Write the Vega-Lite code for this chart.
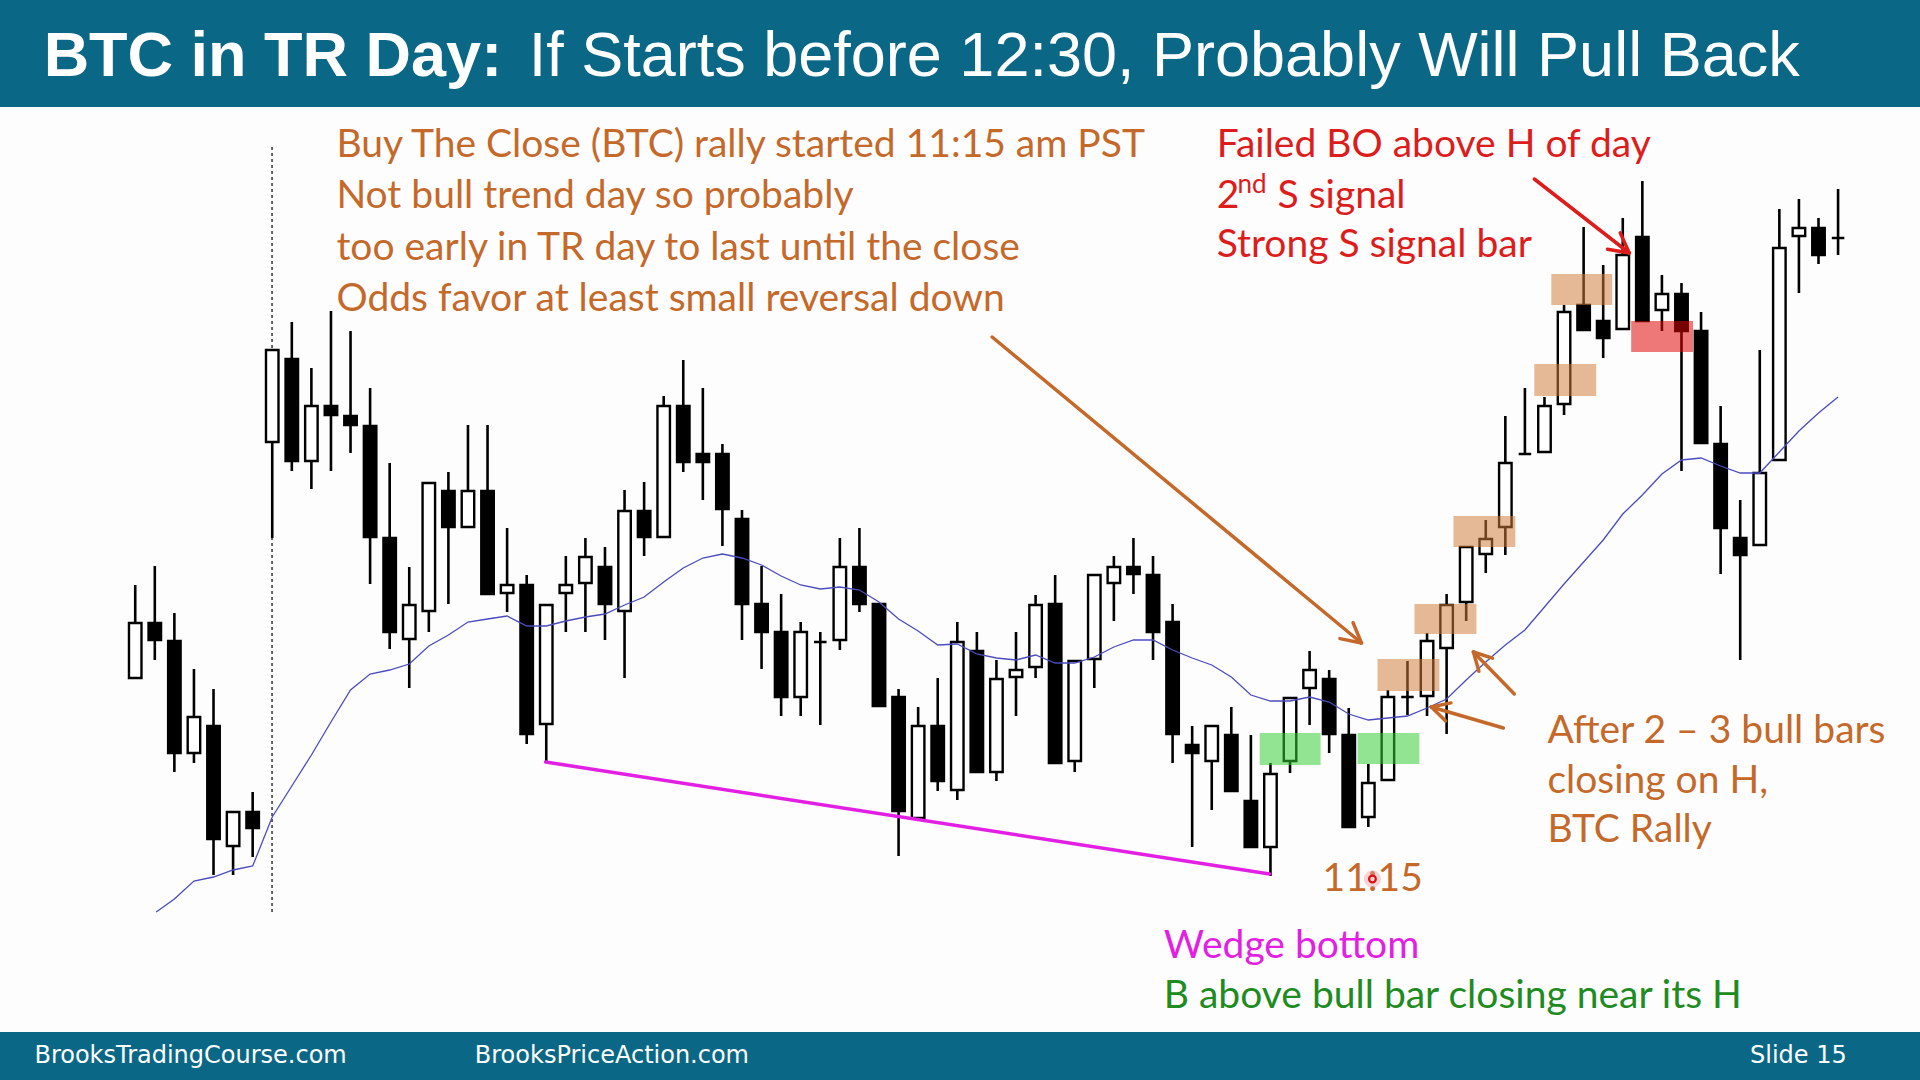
{
  "$schema": "https://vega.github.io/schema/vega-lite/v6.json",
  "width": 1910,
  "height": 1070,
  "padding": 5,
  "autosize": {"type": "none"},
  "background": "#fdfdfd",
  "config": {"view": {"stroke": null}},
  "resolve": {"scale": {"color": "independent"}},
  "datasets": {
    "candles": [
      {"x":0,"o":32.2,"h":41.5,"l":32.2,"c":37.7},
      {"x":1,"o":37.7,"h":43.4,"l":34.0,"c":36.0},
      {"x":2,"o":35.9,"h":38.7,"l":22.8,"c":24.7},
      {"x":3,"o":24.7,"h":33.1,"l":23.7,"c":28.3},
      {"x":4,"o":27.4,"h":31.1,"l":12.5,"c":16.1},
      {"x":5,"o":15.4,"h":18.8,"l":12.5,"c":18.8},
      {"x":6,"o":18.8,"h":20.8,"l":14.3,"c":17.2},
      {"x":7,"o":55.8,"h":65.0,"l":46.2,"c":65.0},
      {"x":8,"o":64.1,"h":67.8,"l":52.9,"c":53.9},
      {"x":9,"o":53.9,"h":63.2,"l":51.1,"c":59.4},
      {"x":10,"o":59.4,"h":68.9,"l":52.9,"c":58.5},
      {"x":11,"o":58.4,"h":66.9,"l":54.7,"c":57.5},
      {"x":12,"o":57.4,"h":61.2,"l":41.6,"c":46.3},
      {"x":13,"o":46.2,"h":53.7,"l":35.1,"c":36.8},
      {"x":14,"o":36.1,"h":43.3,"l":31.2,"c":39.5},
      {"x":15,"o":38.9,"h":51.7,"l":36.8,"c":51.7},
      {"x":16,"o":50.9,"h":52.8,"l":39.6,"c":47.3},
      {"x":17,"o":47.3,"h":57.5,"l":47.3,"c":50.9},
      {"x":18,"o":50.9,"h":57.5,"l":40.6,"c":40.6},
      {"x":19,"o":40.7,"h":47.2,"l":38.8,"c":41.5},
      {"x":20,"o":41.5,"h":42.5,"l":25.6,"c":26.6},
      {"x":21,"o":27.6,"h":39.5,"l":23.9,"c":39.5},
      {"x":22,"o":40.7,"h":44.4,"l":36.8,"c":41.5},
      {"x":23,"o":41.7,"h":46.2,"l":36.8,"c":44.3},
      {"x":24,"o":43.3,"h":45.3,"l":36.0,"c":39.6},
      {"x":25,"o":38.9,"h":51.0,"l":32.2,"c":48.9},
      {"x":26,"o":48.9,"h":51.8,"l":44.4,"c":46.3},
      {"x":27,"o":46.3,"h":60.4,"l":46.3,"c":59.4},
      {"x":28,"o":59.4,"h":64.0,"l":52.8,"c":53.8},
      {"x":29,"o":54.6,"h":61.2,"l":50.0,"c":53.8},
      {"x":30,"o":54.6,"h":55.6,"l":45.4,"c":49.1},
      {"x":31,"o":48.1,"h":49.0,"l":36.0,"c":39.6},
      {"x":32,"o":39.6,"h":43.4,"l":33.1,"c":36.8},
      {"x":33,"o":36.8,"h":40.6,"l":28.4,"c":30.3},
      {"x":34,"o":30.3,"h":37.8,"l":28.4,"c":36.8},
      {"x":35,"o":35.8,"h":36.8,"l":27.5,"c":35.8},
      {"x":36,"o":36.0,"h":46.2,"l":35.0,"c":43.3},
      {"x":37,"o":43.3,"h":47.2,"l":38.8,"c":39.6},
      {"x":38,"o":39.6,"h":39.6,"l":29.4,"c":29.4},
      {"x":39,"o":30.3,"h":31.1,"l":14.4,"c":18.9},
      {"x":40,"o":18.2,"h":29.3,"l":18.2,"c":27.4},
      {"x":41,"o":27.4,"h":32.2,"l":20.9,"c":21.9},
      {"x":42,"o":21.0,"h":37.8,"l":20.0,"c":35.8},
      {"x":43,"o":34.9,"h":36.8,"l":22.8,"c":22.8},
      {"x":44,"o":22.8,"h":34.0,"l":21.9,"c":32.1},
      {"x":45,"o":32.3,"h":36.8,"l":28.4,"c":33.0},
      {"x":46,"o":33.3,"h":40.5,"l":32.2,"c":39.5},
      {"x":47,"o":39.6,"h":42.5,"l":23.7,"c":23.7},
      {"x":48,"o":23.9,"h":33.9,"l":22.8,"c":33.9},
      {"x":49,"o":34.1,"h":42.5,"l":31.2,"c":42.5},
      {"x":50,"o":41.7,"h":44.4,"l":37.9,"c":43.3},
      {"x":51,"o":43.3,"h":46.2,"l":40.6,"c":42.6},
      {"x":52,"o":42.5,"h":44.4,"l":34.0,"c":36.8},
      {"x":53,"o":37.8,"h":39.6,"l":23.7,"c":26.6},
      {"x":54,"o":25.5,"h":27.4,"l":15.3,"c":24.7},
      {"x":55,"o":23.9,"h":27.4,"l":19.0,"c":27.4},
      {"x":56,"o":26.5,"h":29.3,"l":20.9,"c":20.9},
      {"x":57,"o":19.9,"h":26.5,"l":15.3,"c":15.3},
      {"x":58,"o":15.3,"h":23.7,"l":12.4,"c":22.6},
      {"x":59,"o":23.9,"h":30.2,"l":22.7,"c":30.2},
      {"x":60,"o":31.2,"h":34.9,"l":27.5,"c":33.0},
      {"x":61,"o":32.1,"h":33.0,"l":24.7,"c":26.6},
      {"x":62,"o":26.5,"h":29.2,"l":17.3,"c":17.3},
      {"x":63,"o":18.3,"h":23.6,"l":17.3,"c":21.7},
      {"x":64,"o":22.0,"h":31.0,"l":22.0,"c":30.3},
      {"x":65,"o":30.3,"h":33.9,"l":28.5,"c":30.3},
      {"x":66,"o":30.4,"h":36.7,"l":28.4,"c":35.9},
      {"x":67,"o":35.2,"h":40.6,"l":26.6,"c":39.5},
      {"x":68,"o":39.8,"h":45.3,"l":37.9,"c":45.3},
      {"x":69,"o":44.6,"h":48.0,"l":42.7,"c":46.1},
      {"x":70,"o":47.3,"h":58.4,"l":44.5,"c":53.7},
      {"x":71,"o":54.6,"h":61.2,"l":54.6,"c":54.6},
      {"x":72,"o":54.8,"h":60.3,"l":54.8,"c":59.4},
      {"x":73,"o":59.6,"h":69.5,"l":58.5,"c":68.8},
      {"x":74,"o":69.5,"h":77.3,"l":67.0,"c":67.0},
      {"x":75,"o":67.9,"h":73.5,"l":64.2,"c":66.2},
      {"x":76,"o":67.1,"h":78.2,"l":67.1,"c":74.5},
      {"x":77,"o":76.3,"h":81.9,"l":67.9,"c":67.9},
      {"x":78,"o":69.0,"h":72.5,"l":66.9,"c":70.6},
      {"x":79,"o":70.6,"h":71.7,"l":52.9,"c":66.9},
      {"x":80,"o":66.9,"h":68.8,"l":55.7,"c":55.7},
      {"x":81,"o":55.6,"h":59.4,"l":42.6,"c":47.2},
      {"x":82,"o":46.2,"h":50.0,"l":34.0,"c":44.5},
      {"x":83,"o":45.5,"h":65.0,"l":45.5,"c":52.7},
      {"x":84,"o":54.0,"h":79.1,"l":54.0,"c":75.2},
      {"x":85,"o":76.4,"h":80.1,"l":70.7,"c":77.2},
      {"x":86,"o":77.2,"h":78.2,"l":73.6,"c":74.5},
      {"x":87,"o":76.2,"h":81.1,"l":74.5,"c":76.2}
    ],
    "ma": [
      {"x":1.07,"y":8.8},{"x":2,"y":10.1},{"x":3,"y":11.9},{"x":4,"y":12.3},{"x":5,"y":13.0},
      {"x":6,"y":13.4},{"x":7,"y":18.3},{"x":8,"y":21.4},{"x":9,"y":24.5},{"x":10,"y":27.8},
      {"x":11,"y":31.0},{"x":12,"y":32.6},{"x":13,"y":33.0},{"x":14,"y":33.6},{"x":15,"y":35.4},
      {"x":16,"y":36.5},{"x":17,"y":37.8},{"x":18,"y":38.1},{"x":19,"y":38.4},{"x":20,"y":37.4},
      {"x":21,"y":37.4},{"x":22,"y":37.9},{"x":23,"y":38.3},{"x":24,"y":38.6},{"x":25,"y":39.5},
      {"x":26,"y":40.3},{"x":27,"y":41.8},{"x":28,"y":43.2},{"x":29,"y":44.2},{"x":30,"y":44.6},
      {"x":31,"y":44.2},{"x":32,"y":43.5},{"x":33,"y":42.4},{"x":34,"y":41.5},{"x":35,"y":41.1},
      {"x":36,"y":41.3},{"x":37,"y":41.0},{"x":38,"y":39.8},{"x":39,"y":38.1},{"x":40,"y":36.9},
      {"x":41,"y":35.5},{"x":42,"y":35.6},{"x":43,"y":34.6},{"x":44,"y":34.2},{"x":45,"y":34.0},
      {"x":46,"y":34.5},{"x":47,"y":33.7},{"x":48,"y":33.7},{"x":49,"y":34.3},{"x":50,"y":35.3},
      {"x":51,"y":36.0},{"x":52,"y":36.0},{"x":53,"y":35.0},{"x":54,"y":34.2},{"x":55,"y":33.5},
      {"x":56,"y":32.3},{"x":57,"y":30.5},{"x":58,"y":29.9},{"x":59,"y":29.9},{"x":60,"y":30.3},
      {"x":61,"y":29.8},{"x":62,"y":28.6},{"x":63,"y":28.0},{"x":64,"y":28.2},{"x":65,"y":28.4},
      {"x":66,"y":29.2},{"x":67,"y":30.1},{"x":68,"y":32.0},{"x":69,"y":33.8},{"x":70,"y":35.5},
      {"x":71,"y":37.0},{"x":72,"y":39.3},{"x":73,"y":41.6},{"x":74,"y":43.8},{"x":75,"y":46.0},
      {"x":76,"y":48.6},{"x":77,"y":50.5},{"x":78,"y":52.6},{"x":79,"y":54.0},{"x":80,"y":54.2},
      {"x":81,"y":53.4},{"x":82,"y":52.7},{"x":83,"y":52.7},{"x":84,"y":54.8},{"x":85,"y":56.9},
      {"x":86,"y":58.7},{"x":87,"y":60.3}
    ],
    "bands": [
      {"x":-8,"x2":93,"y":102,"y2":89.3},
      {"x":-8,"x2":93,"y":-3.2,"y2":-10}
    ],
    "boxes": [
      {"k":"orange","x":63.47,"x2":66.63,"y":34.1,"y2":30.9},
      {"k":"orange","x":65.36,"x2":68.52,"y":39.6,"y2":36.6},
      {"k":"orange","x":67.35,"x2":70.51,"y":48.4,"y2":45.3},
      {"k":"orange","x":71.48,"x2":74.64,"y":63.6,"y2":60.4},
      {"k":"orange","x":72.35,"x2":75.46,"y":72.6,"y2":69.5},
      {"k":"red","x":76.43,"x2":79.59,"y":67.9,"y2":64.8},
      {"k":"green","x":57.45,"x2":60.56,"y":26.7,"y2":23.5},
      {"k":"green","x":62.45,"x2":65.61,"y":26.7,"y2":23.6}
    ],
    "segs": [
      {"k":"orange","x":43.78,"y":66.3,"x2":62.65,"y2":35.7},
      {"k":"orange","x":62.65,"y":35.7,"x2":62.22,"y2":37.73},
      {"k":"orange","x":62.65,"y":35.7,"x2":61.55,"y2":36.14},
      {"k":"orange","x":70.46,"y":30.6,"x2":68.37,"y2":34.8},
      {"k":"orange","x":68.37,"y":34.8,"x2":68.65,"y2":32.88},
      {"k":"orange","x":68.37,"y":34.8,"x2":69.34,"y2":34.19},
      {"k":"orange","x":69.9,"y":27.2,"x2":66.22,"y2":29.3},
      {"k":"orange","x":66.22,"y":29.3,"x2":66.95,"y2":27.91},
      {"k":"orange","x":66.22,"y":29.3,"x2":67.22,"y2":29.71},
      {"k":"red","x":71.48,"y":82.1,"x2":76.33,"y2":74.7},
      {"k":"red","x":76.33,"y":74.7,"x2":75.87,"y2":76.71},
      {"k":"red","x":76.33,"y":74.7,"x2":75.22,"y2":75.08},
      {"k":"magenta","x":20.97,"y":23.8,"x2":57.96,"y2":12.6}
    ],
    "labels": [
      {"t":"BTC in TR Day:","x":-4.68,"y":92.4,"g":"titleb"},
      {"t":"If Starts before 12:30, Probably Will Pull Back","x":20.1,"y":92.4,"g":"title"},
      {"t":"Buy The Close (BTC) rally started 11:15 am PST","x":10.28,"y":84.3,"g":"note"},
      {"t":"Not bull trend day so probably","x":10.28,"y":79.2,"g":"note"},
      {"t":"too early in TR day to last until the close","x":10.28,"y":74.0,"g":"note"},
      {"t":"Odds favor at least small reversal down","x":10.28,"y":68.9,"g":"note"},
      {"t":"Failed BO above H of day","x":55.25,"y":84.3,"g":"signal"},
      {"t":"2","x":55.25,"y":79.2,"g":"signal"},
      {"t":"nd","x":56.32,"y":80.7,"g":"sup"},
      {"t":"S signal","x":58.36,"y":79.2,"g":"signal"},
      {"t":"Strong S signal bar","x":55.25,"y":74.3,"g":"signal"},
      {"t":"After 2 – 3 bull bars","x":72.15,"y":25.7,"g":"note"},
      {"t":"closing on H,","x":72.15,"y":20.7,"g":"note"},
      {"t":"BTC Rally","x":72.15,"y":15.8,"g":"note"},
      {"t":"11:15","x":60.66,"y":10.9,"g":"note"},
      {"t":"Wedge bottom","x":52.55,"y":4.2,"g":"wedge"},
      {"t":"B above bull bar closing near its H","x":52.55,"y":-0.8,"g":"entry"},
      {"t":"BrooksTradingCourse.com","x":-5.15,"y":-6.3,"g":"footer"},
      {"t":"BrooksPriceAction.com","x":17.35,"y":-6.3,"g":"footer"},
      {"t":"Slide  15","x":82.5,"y":-6.3,"g":"footer"}
    ],
    "marker": [{"x":6.99,"y":85.3,"y2":8.8}],
    "cursor": [{"x":63.21,"y":12.1}]
  },
  "layer": [
    {
      "data": {"name": "bands"},
      "mark": {"type": "rect", "color": "#0a6785", "clip": false},
      "encoding": {
        "x": {"field": "x", "type": "quantitative", "scale": {"domain": [-6.398, 90.675], "nice": false, "zero": false}, "axis": null},
        "x2": {"field": "x2"},
        "y": {"field": "y", "type": "quantitative", "scale": {"domain": [-7.5, 99.5], "nice": false, "zero": false}, "axis": null},
        "y2": {"field": "y2"}
      }
    },
    {
      "data": {"name": "marker"},
      "mark": {"type": "rule", "color": "#333333", "strokeWidth": 1.5, "strokeDash": [3, 3]},
      "encoding": {
        "x": {"field": "x", "type": "quantitative", "scale": {"domain": [-6.398, 90.675], "nice": false, "zero": false}, "axis": null},
        "y": {"field": "y", "type": "quantitative", "scale": {"domain": [-7.5, 99.5], "nice": false, "zero": false}, "axis": null},
        "y2": {"field": "y2"}
      }
    },
    {
      "data": {"name": "candles"},
      "mark": {"type": "rule", "color": "#000000", "strokeWidth": 2.6},
      "encoding": {
        "x": {"field": "x", "type": "quantitative", "scale": {"domain": [-6.398, 90.675], "nice": false, "zero": false}, "axis": null},
        "y": {"field": "l", "type": "quantitative", "scale": {"domain": [-7.5, 99.5], "nice": false, "zero": false}, "axis": null},
        "y2": {"field": "h"}
      }
    },
    {
      "data": {"name": "candles"},
      "mark": {"type": "bar", "width": 12.5, "stroke": "#000000", "strokeWidth": 2.4},
      "encoding": {
        "x": {"field": "x", "type": "quantitative", "scale": {"domain": [-6.398, 90.675], "nice": false, "zero": false}, "axis": null},
        "y": {"field": "o", "type": "quantitative", "scale": {"domain": [-7.5, 99.5], "nice": false, "zero": false}, "axis": null},
        "y2": {"field": "c"},
        "fill": {"condition": {"test": "datum.c > datum.o", "value": "#ffffff"}, "value": "#000000"}
      }
    },
    {
      "data": {"name": "ma"},
      "mark": {"type": "line", "color": "#4b4bc0", "strokeWidth": 1.3},
      "encoding": {
        "x": {"field": "x", "type": "quantitative", "scale": {"domain": [-6.398, 90.675], "nice": false, "zero": false}, "axis": null},
        "y": {"field": "y", "type": "quantitative", "scale": {"domain": [-7.5, 99.5], "nice": false, "zero": false}, "axis": null}
      }
    },
    {
      "data": {"name": "boxes"},
      "mark": {"type": "rect", "opacity": 0.53},
      "encoding": {
        "x": {"field": "x", "type": "quantitative", "scale": {"domain": [-6.398, 90.675], "nice": false, "zero": false}, "axis": null},
        "x2": {"field": "x2"},
        "y": {"field": "y", "type": "quantitative", "scale": {"domain": [-7.5, 99.5], "nice": false, "zero": false}, "axis": null},
        "y2": {"field": "y2"},
        "color": {"field": "k", "type": "nominal", "scale": {"domain": ["orange", "green", "red"], "range": ["#d07a3a", "#33cc33", "#e00000"]}, "legend": null}
      }
    },
    {
      "data": {"name": "segs"},
      "mark": {"type": "rule", "strokeWidth": 3.5, "strokeCap": "round"},
      "encoding": {
        "x": {"field": "x", "type": "quantitative", "scale": {"domain": [-6.398, 90.675], "nice": false, "zero": false}, "axis": null},
        "x2": {"field": "x2"},
        "y": {"field": "y", "type": "quantitative", "scale": {"domain": [-7.5, 99.5], "nice": false, "zero": false}, "axis": null},
        "y2": {"field": "y2"},
        "color": {"field": "k", "type": "nominal", "scale": {"domain": ["orange", "red", "magenta"], "range": ["#c5692a", "#dd1c1c", "#e21fe2"]}, "legend": null}
      }
    },
    {
      "data": {"name": "labels"},
      "transform": [{"filter": "datum.g === 'titleb'"}],
      "mark": {"type": "text", "align": "left", "baseline": "alphabetic", "font": "Liberation Sans", "fontWeight": "bold", "fontSize": 63, "color": "#ffffff", "clip": false},
      "encoding": {
        "x": {"field": "x", "type": "quantitative", "scale": {"domain": [-6.398, 90.675], "nice": false, "zero": false}, "axis": null},
        "y": {"field": "y", "type": "quantitative", "scale": {"domain": [-7.5, 99.5], "nice": false, "zero": false}, "axis": null},
        "text": {"field": "t"}
      }
    },
    {
      "data": {"name": "labels"},
      "transform": [{"filter": "datum.g === 'title'"}],
      "mark": {"type": "text", "align": "left", "baseline": "alphabetic", "font": "Liberation Sans", "fontSize": 63, "color": "#ffffff", "clip": false},
      "encoding": {
        "x": {"field": "x", "type": "quantitative", "scale": {"domain": [-6.398, 90.675], "nice": false, "zero": false}, "axis": null},
        "y": {"field": "y", "type": "quantitative", "scale": {"domain": [-7.5, 99.5], "nice": false, "zero": false}, "axis": null},
        "text": {"field": "t"}
      }
    },
    {
      "data": {"name": "labels"},
      "transform": [{"filter": "datum.g === 'footer'"}],
      "mark": {"type": "text", "align": "left", "baseline": "alphabetic", "font": "DejaVu Sans", "fontSize": 24, "color": "#ffffff", "clip": false},
      "encoding": {
        "x": {"field": "x", "type": "quantitative", "scale": {"domain": [-6.398, 90.675], "nice": false, "zero": false}, "axis": null},
        "y": {"field": "y", "type": "quantitative", "scale": {"domain": [-7.5, 99.5], "nice": false, "zero": false}, "axis": null},
        "text": {"field": "t"}
      }
    },
    {
      "data": {"name": "labels"},
      "transform": [{"filter": "datum.g === 'note' || datum.g === 'signal' || datum.g === 'wedge' || datum.g === 'entry'"}],
      "mark": {"type": "text", "align": "left", "baseline": "alphabetic", "font": "Lato", "fontSize": 39},
      "encoding": {
        "x": {"field": "x", "type": "quantitative", "scale": {"domain": [-6.398, 90.675], "nice": false, "zero": false}, "axis": null},
        "y": {"field": "y", "type": "quantitative", "scale": {"domain": [-7.5, 99.5], "nice": false, "zero": false}, "axis": null},
        "text": {"field": "t"},
        "color": {"field": "g", "type": "nominal", "scale": {"domain": ["note", "signal", "wedge", "entry"], "range": ["#c5692a", "#dd1c1c", "#e21fe2", "#208b20"]}, "legend": null}
      }
    },
    {
      "data": {"name": "labels"},
      "transform": [{"filter": "datum.g === 'sup'"}],
      "mark": {"type": "text", "align": "left", "baseline": "alphabetic", "font": "Lato", "fontSize": 26, "color": "#dd1c1c"},
      "encoding": {
        "x": {"field": "x", "type": "quantitative", "scale": {"domain": [-6.398, 90.675], "nice": false, "zero": false}, "axis": null},
        "y": {"field": "y", "type": "quantitative", "scale": {"domain": [-7.5, 99.5], "nice": false, "zero": false}, "axis": null},
        "text": {"field": "t"}
      }
    },
    {
      "data": {"name": "cursor"},
      "mark": {"type": "point", "shape": "circle", "filled": true, "size": 300, "color": "#f2a0a0", "opacity": 0.45},
      "encoding": {
        "x": {"field": "x", "type": "quantitative", "scale": {"domain": [-6.398, 90.675], "nice": false, "zero": false}, "axis": null},
        "y": {"field": "y", "type": "quantitative", "scale": {"domain": [-7.5, 99.5], "nice": false, "zero": false}, "axis": null}
      }
    },
    {
      "data": {"name": "cursor"},
      "mark": {"type": "point", "shape": "circle", "filled": false, "size": 45, "color": "#e01010", "strokeWidth": 2.2, "opacity": 1},
      "encoding": {
        "x": {"field": "x", "type": "quantitative", "scale": {"domain": [-6.398, 90.675], "nice": false, "zero": false}, "axis": null},
        "y": {"field": "y", "type": "quantitative", "scale": {"domain": [-7.5, 99.5], "nice": false, "zero": false}, "axis": null}
      }
    }
  ]
}
